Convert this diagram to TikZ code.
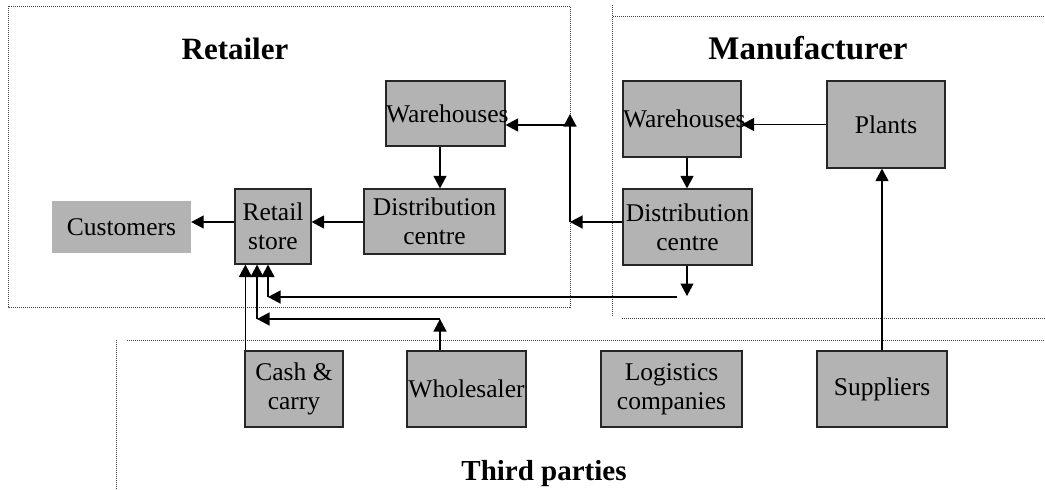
\documentclass[tikz,border=0pt]{standalone}
\usepackage{fontspec}
\setmainfont{Liberation Serif}
\usetikzlibrary{arrows.meta}
\definecolor{boxgray}{RGB}{179,179,179}
\begin{document}
\begin{tikzpicture}[x=1pt,y=-1pt,
  stagebox/.style={draw=black!85, line width=1.2pt, fill=boxgray, inner sep=0pt,
    align=center, font=\fontsize{25.5}{29}\selectfont},
  plainbox/.style={fill=boxgray, inner sep=0pt, align=center,
    font=\fontsize{25.5}{29}\selectfont},
  flow/.style={line width=1.3pt, -{Triangle[length=12.5pt,width=13pt]}},
  zone/.style={black!75, line width=0.8pt, dash pattern=on 1pt off 1pt},
  zonetitle/.style={font=\bfseries\fontsize{31}{36}\selectfont, anchor=base}]
\useasboundingbox (0,0) rectangle (1045,490);

% zone outlines
\draw[zone] (8,6) rectangle (570,307);
\draw[zone] (612,5) -- (612,317);
\draw[zone] (613,16) -- (1045,16);
\draw[zone] (622,318) -- (1045,318);
\draw[zone] (127,340) -- (1045,340);
\draw[zone] (116,340) -- (116,490);

% zone titles
\node[zonetitle] (tret) at (235,59) {Retailer};
\node[zonetitle, font=\bfseries\fontsize{33}{38}\selectfont] (tman) at (808,59) {Manufacturer};
\node[zonetitle, font=\bfseries\fontsize{29}{34}\selectfont] (tthird) at (544,480) {Third parties};

% retailer
\node[stagebox, text width=119pt, minimum height=65pt] (rwh) at (445.5,113.5) {Warehouses};
\node[stagebox, minimum width=141pt, minimum height=65pt] (rdc) at (434.5,221.5) {Distribution\\centre};
\node[stagebox, minimum width=76pt, minimum height=75pt] (store) at (273,226.5) {Retail\\store};
\node[plainbox, minimum width=139pt, minimum height=52pt] (cust) at (121.5,227) {Customers};

% manufacturer
\node[stagebox, text width=118pt, minimum height=76pt] (mwh) at (682,119) {Warehouses};
\node[stagebox, minimum width=129pt, minimum height=76pt] (mdc) at (687.5,227) {Distribution\\centre};
\node[stagebox, minimum width=118pt, minimum height=87pt] (plants) at (886,124.5) {Plants};

% third parties
\node[stagebox, minimum width=98pt, minimum height=76pt] (cash) at (294,389) {Cash \&\\carry};
\node[stagebox, minimum width=119pt, minimum height=76pt] (whole) at (466.5,389) {Wholesaler};
\node[stagebox, minimum width=141pt, minimum height=76pt] (logi) at (671.5,389) {Logistics\\companies};
\node[stagebox, minimum width=130pt, minimum height=76pt] (supp) at (882,389) {Suppliers};

% junction points
\coordinate (j1) at (570,222);
\coordinate (j2) at (570,114);
\coordinate (j3) at (570,125);
\coordinate (d1) at (687,296);
\coordinate (h1) at (677,297);
\coordinate (k1) at (268,297);
\coordinate (w1) at (440,319);
\coordinate (w2) at (257,319);

% retailer flows
\draw[flow] ([xshift=-5.5pt]rwh.south) -- ([xshift=-5.5pt]rwh.south |- rdc.north);
\draw[flow] ([yshift=-0.5pt]rdc.west) -- ([yshift=-0.5pt]rdc.west -| store.east);
\draw[flow] ([yshift=4.5pt]store.west) -- ([yshift=4.5pt]store.west -| cust.east);

% manufacturer to retailer warehouses
\draw[flow] ([yshift=5pt]mdc.west) -- (j1);
\draw[flow] (j1) -- (j2);
\draw[flow] (j3) -- (j3 -| rwh.east);

% manufacturer flows
\draw[flow] (plants.west) -- (plants.west -| mwh.east);
\draw[flow] ([xshift=5pt]mwh.south) -- ([xshift=5pt]mwh.south |- mdc.north);
\draw[flow] ([xshift=-0.5pt]mdc.south) -- (d1);

% direct deliveries to the store
\draw[flow] (h1) -- (k1);
\draw[flow] (k1) -- (k1 |- store.south);
\draw[flow] ([xshift=-26.5pt]whole.north) -- (w1);
\draw[flow] (w1) -- (w2);
\draw[flow] (w2) -- (w2 |- store.south);
\draw[flow] ([xshift=1pt]cash.north west) -- ([xshift=1pt]cash.north west |- store.south);

% suppliers to plants
\draw[flow] (supp.north) -- (supp.north |- plants.south);
\end{tikzpicture}
\end{document}
